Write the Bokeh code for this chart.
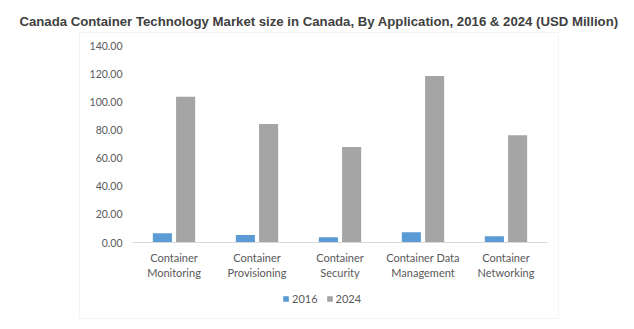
from bokeh.plotting import figure
from bokeh.models import (Range1d, NumeralTickFormatter, Label, BoxAnnotation, FixedTicker,
                          Legend, LegendItem, ColumnDataSource)
from bokeh.transform import dodge
from bokeh.embed import file_html
from bokeh.resources import INLINE

categories = ["Container\nMonitoring", "Container\nProvisioning", "Container\nSecurity",
              "Container Data\nManagement", "Container\nNetworking"]
series_names = ["2016", "2024"]
values_2016 = [6.6, 5.4, 3.8, 7.3, 4.5]
values_2024 = [103.5, 84.3, 67.9, 118.4, 76.3]
y_ticks = [0, 20, 40, 60, 80, 100, 120, 140]
title_text = "Canada Container Technology Market size in Canada, By Application, 2016 & 2024 (USD Million)"

W, H = 634, 329
pos = list(range(len(categories)))
src = ColumnDataSource(dict(x=pos, v2016=values_2016, v2024=values_2024))

# frame covers the whole canvas; ranges chosen so the data area sits at 132..547 x 45..242
px_per_x = 83.0
x0 = -173.5 / px_per_x
px_per_y = 197.0 / 140.0
y0 = -(H - 242) / px_per_y
p = figure(width=W, height=H, x_range=Range1d(x0, x0 + W / px_per_x),
           y_range=Range1d(y0, y0 + H / px_per_y),
           output_backend="svg", toolbar_location=None,
           min_border_left=0, min_border_right=0, min_border_top=0, min_border_bottom=0)
p.outline_line_color = None
p.xgrid.grid_line_color = None
p.ygrid.grid_line_color = None

r1 = p.vbar(x=dodge("x", -0.14), top="v2016", width=0.23, source=src,
            fill_color="#5B9BD5", line_color=None)
r2 = p.vbar(x=dodge("x", 0.14), top="v2024", width=0.23, source=src,
            fill_color="#A5A5A5", line_color=None)

# baseline (category axis line) spanning the categories only
p.segment(x0=[pos[0] - 0.5], x1=[pos[-1] + 0.5], y0=[0], y1=[0], line_color="#D9D9D9", line_width=1)

p.yaxis.fixed_location = pos[0] - 0.5
p.yaxis.ticker = FixedTicker(ticks=y_ticks)
p.yaxis.formatter = NumeralTickFormatter(format="0.00")
p.yaxis.axis_line_color = None
p.yaxis.major_tick_line_color = None
p.yaxis.minor_tick_line_color = None
p.yaxis.major_label_text_font = "Lato"
p.yaxis.major_label_text_font_size = "10.5px"
p.yaxis.major_label_text_color = "#595959"
p.yaxis.major_label_standoff = 4

p.xaxis.fixed_location = 0
p.xaxis.ticker = FixedTicker(ticks=pos)
p.xaxis.major_label_overrides = {i: c for i, c in zip(pos, categories)}
p.xaxis.axis_line_color = None
p.xaxis.major_tick_line_color = None
p.xaxis.minor_tick_line_color = None
p.xaxis.major_label_text_font = "Lato"
p.xaxis.major_label_text_font_size = "11px"
p.xaxis.major_label_text_color = "#595959"
p.xaxis.major_label_standoff = 2

legend = Legend(items=[LegendItem(label=series_names[0], renderers=[r1]),
                       LegendItem(label=series_names[1], renderers=[r2])],
                orientation="horizontal", location=(282, 24), border_line_color=None,
                background_fill_alpha=0, glyph_width=7, glyph_height=7, spacing=8,
                label_text_font="Lato", label_text_font_size="11px", label_text_color="#595959",
                padding=0, margin=0, label_standoff=3, label_height=12)
p.add_layout(legend)

frame = BoxAnnotation(left=79, right=558, top=H - 32, bottom=H - 318,
                      left_units="screen", right_units="screen", top_units="screen", bottom_units="screen",
                      fill_alpha=0, line_color="#D9D9D9", line_width=1)
p.add_layout(frame)

title = Label(x=318.5, y=H - 21, x_units="screen", y_units="screen", text=title_text,
              text_font="Liberation Sans", text_font_style="bold", text_font_size="13.2px",
              text_color="#404040", text_align="center", text_baseline="middle")
p.add_layout(title)

open("out.html", "w").write(file_html(p, INLINE))
